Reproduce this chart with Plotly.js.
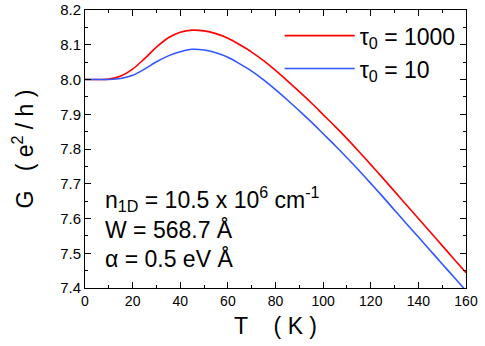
<!DOCTYPE html>
<html><head>
<script src="https://cdn.plot.ly/plotly-3.0.1.min.js"></script>
<style>body{margin:0;background:#fff}</style>
</head><body>
<div id="chart" style="width:485px;height:346px"></div>
<script>
const T = [0,5,10,15,20,25,30,35,40,45,50,55,60,65,70,75,80,85,90,95,100,105,110,115,120,125,130,135,140,145,150,155,160];
const G_tau1000 = [8.000,8.000,8.001,8.010,8.030,8.060,8.093,8.120,8.136,8.142,8.140,8.132,8.119,8.100,8.079,8.054,8.026,7.996,7.965,7.933,7.899,7.865,7.830,7.793,7.755,7.717,7.678,7.639,7.600,7.561,7.522,7.483,7.444];
const G_tau10 = [8.000,8.000,8.000,8.003,8.012,8.030,8.051,8.068,8.080,8.087,8.085,8.077,8.064,8.045,8.024,7.999,7.971,7.941,7.910,7.878,7.844,7.810,7.775,7.739,7.701,7.663,7.624,7.585,7.547,7.508,7.469,7.431,7.392];
const seriesNames = ['τ<sub>0</sub> = 1000', 'τ<sub>0</sub> = 10'];
const xTitle = 'T\u00a0\u00a0\u00a0\u00a0(\u00a0K\u00a0)';
const yTitle = 'G\u00a0\u00a0\u00a0(\u00a0e<sup>2</sup>\u00a0/\u00a0h\u00a0)';
const notes = ['n<sub>1D</sub> = 10.5 x 10<sup>6</sup> cm<sup>-1</sup>', 'W = 568.7 Å', 'α = 0.5 eV Å'];

const font = 'Liberation Sans, Arial, sans-serif';
const traces = [
  {x: T, y: G_tau1000, name: seriesNames[0], mode: 'lines', line: {color: '#ff0000', width: 1.6, shape: 'spline', smoothing: 1}},
  {x: T, y: G_tau10, name: seriesNames[1], mode: 'lines', line: {color: '#3355ff', width: 1.6, shape: 'spline', smoothing: 1}}
];
const axisCommon = {
  showline: true, linecolor: '#000', linewidth: 1, mirror: 'ticks',
  ticks: 'inside', ticklen: 6, tickwidth: 1, tickcolor: '#000',
  showgrid: false, zeroline: false,
  minor: {ticks: 'inside', ticklen: 3, tickwidth: 1, tickcolor: '#000', showgrid: false}
};
const layout = {
  width: 485, height: 346,
  margin: {l: 85, r: 19, t: 10, b: 58},
  paper_bgcolor: '#fff', plot_bgcolor: '#fff',
  font: {family: font, color: '#000'},
  showlegend: true,
  legend: {x: 0.511, y: 0.985, xanchor: 'left', yanchor: 'top', bgcolor: 'rgba(0,0,0,0)',
           font: {family: font, size: 23, color: '#000'}, itemwidth: 70, tracegroupgap: 0},
  xaxis: Object.assign({}, axisCommon, {
    range: [0, 160], tickmode: 'linear', tick0: 0, dtick: 20,
    tickfont: {family: font, size: 14, color: '#000'},
    minor: Object.assign({}, axisCommon.minor, {dtick: 10}),
    title: {text: xTitle, font: {family: font, size: 23, color: '#000'}, standoff: 10}
  }),
  yaxis: Object.assign({}, axisCommon, {
    range: [7.4, 8.2], tickmode: 'linear', tick0: 7.4, dtick: 0.1, tickformat: '.1f',
    tickfont: {family: font, size: 15, color: '#000'},
    minor: Object.assign({}, axisCommon.minor, {dtick: 0.05}),
    title: {text: yTitle, font: {family: font, size: 23, color: '#000'}, standoff: 20}
  }),
  annotations: [{
    text: notes.join('<br>'), xref: 'paper', yref: 'paper', x: 0.048, y: 0.219,
    xanchor: 'left', yanchor: 'middle', align: 'left', showarrow: false,
    font: {family: font, size: 23, color: '#000'}
  }]
};
Plotly.newPlot('chart', traces, layout, {displayModeBar: false, staticPlot: true});
</script>
</body></html>
